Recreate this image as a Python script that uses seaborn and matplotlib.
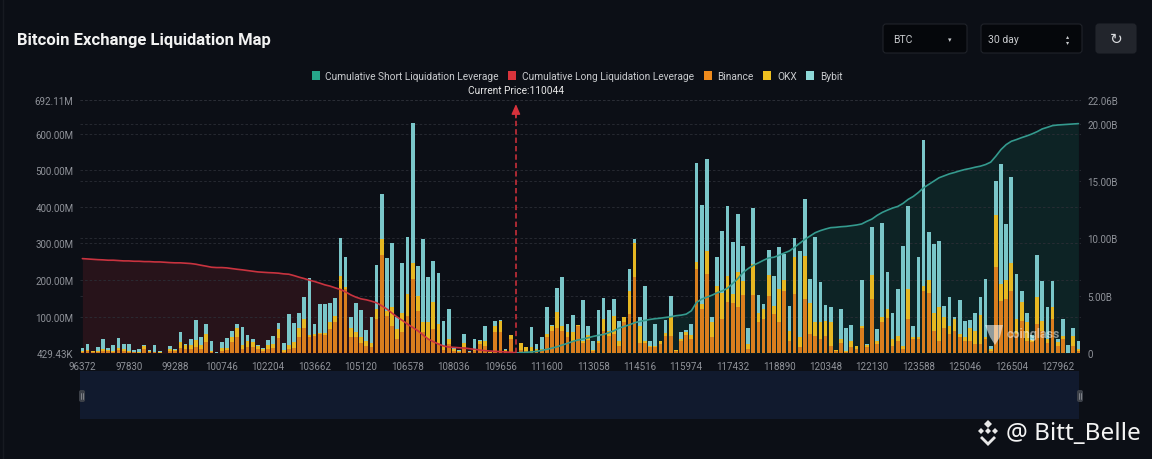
import numpy as np
import pandas as pd
import matplotlib
matplotlib.use("Agg")
import matplotlib.pyplot as plt
from matplotlib.patches import Rectangle, FancyBboxPatch, Polygon
import seaborn as sns

# ---------- data (millions of USD per price bucket) ----------
binance = [3,5,4,3,6,5,4,8,7,4,2,1,12,3,2,1,.2,6,5,15,12,12,18,12,30,3,.5,7,9,30,45,12,18,16,12,7,12,15,42,4,
10,15,45,70,45,47,52,49,66,84,175,175,43,43,29,20,16,93,267,102,75,38,57,102,203,116,57,38,66,29,9,25,6,3,16,2,6,25,20,1,
57,57,6,40,.5,8,6,6,5,6,43,61,70,61,43,34,73,29,37,6,29,61,47,52,20,84,107,207,29,29,16,16,25,47,47,7,34,49,38,230,
120,216,43,166,93,139,137,125,159,11,159,84,93,157,107,84,171,34,162,16,148,52,47,38,47,20,6,29,4,16,12,70,16,148,25,84,95,20,34,11,
93,40,40,171,164,61,34,70,52,61,43,34,34,25,25,38,5,235,143,148,171,52,89,34,30,79,61,29,93,20,38,.5,20,6]
okx = [3,4,3,3,6,4,3,5,3,3,2,2,8,3,2,2,.3,4,4,15,11,10,17,10,22,3,.5,6,6,15,25,10,15,14,8,5,10,10,23,4,
12,15,25,23,5,5,3,6,18,18,35,5,27,14,14,14,13,27,45,14,50,28,54,60,44,41,27,46,73,50,11,13,5,3,11,2,5,9,14,1,
16,32,3,10,.5,20,12,10,5,6,9,12,43,12,15,23,4,5,12,3,5,32,14,50,14,14,64,94,46,5,4,4,7,8,51,1,4,8,12,18,
14,63,41,18,71,73,25,98,39,14,85,27,28,57,23,91,30,27,100,27,117,85,37,46,42,64,2,9,2,18,8,3,6,66,9,14,25,18,13,9,
82,3,3,13,37,49,91,28,23,32,9,9,34,36,79,5,5,143,46,53,76,41,50,50,5,74,28,9,32,10,9,.5,27,5]
bybit = [7,16,0,11,28,6,14,29,14,18,4,7,2,3,18,3,.5,10,2,28,3,18,56,21,27,28,2,18,26,16,10,50,18,8,3,3,15,22,18,21,
85,52,40,61,155,27,80,79,52,49,105,84,30,80,74,30,69,121,124,144,175,32,135,155,383,82,227,125,112,139,67,82,5,3,25,2,29,3,40,1,
16,1,2,0,1,1,0,55,15,31,73,4,64,136,23,47,0,112,26,25,84,59,57,46,55,0,59,11,23,150,14,61,0,36,57,0,19,7,31,273,
271,253,16,78,171,190,143,157,96,44,153,48,13,69,80,116,70,67,53,237,156,66,233,111,43,41,0,84,64,44,0,127,3,132,32,258,103,73,128,272,
226,32,219,398,130,189,181,30,79,5,93,46,23,50,50,160,10,94,327,152,234,123,32,27,15,116,107,89,73,10,46,22,22,21]

# cumulative leverage, billions of USD (long ends at the current price, short starts there)
cum_long = [8.23,8.20,8.17,8.14,8.12,8.09,8.09,8.06,8.03,8.03,8.00,8.00,7.97,7.97,7.94,7.94,7.91,7.88,7.86,7.86,
7.83,7.80,7.74,7.65,7.57,7.48,7.45,7.45,7.42,7.36,7.30,7.25,7.19,7.13,7.07,7.04,7.01,6.99,6.96,6.90,
6.87,6.75,6.61,6.49,6.35,6.23,6.09,5.94,5.83,5.68,5.54,5.33,5.07,4.87,4.72,4.64,4.52,4.38,4.12,3.83,
3.48,3.13,2.84,2.52,2.23,1.94,1.57,1.22,.99,.78,.61,.52,.49,.46,.43,.38,.32,.26,.20,.17,.14,.12,.09,.06,.03]
cum_short = [0,.03,.06,.09,.14,.23,.32,.43,.55,.70,.84,1.01,1.13,1.22,1.33,1.45,1.54,1.62,1.77,1.94,
2.17,2.32,2.46,2.64,2.75,2.84,2.93,2.99,3.04,3.10,3.16,3.25,3.30,3.39,3.68,4.41,4.70,4.87,5.04,5.25,
5.42,5.65,6.06,6.49,7.01,7.36,7.65,7.86,8.09,8.29,8.35,8.52,8.72,8.90,9.22,9.57,9.91,10.20,10.49,10.67,
10.81,10.93,10.96,11.01,11.04,11.10,11.16,11.25,11.48,11.68,12.00,12.26,12.46,12.64,12.78,13.04,13.39,13.65,14.00,14.41,
14.70,14.99,15.28,15.45,15.62,15.74,15.88,16.00,16.09,16.20,16.29,16.43,16.64,17.16,17.74,18.17,18.46,18.61,18.78,18.93,
19.10,19.30,19.54,19.68,19.83,19.88,19.91,19.94,19.97,20.00]

price_labels = ["96372","97830","99288","100746","102204","103662","105120","106578","108036","109656","111600",
                "113058","114516","115974","117432","118890","120348","122130","123588","125046","126504","127962"]
left_ticks = [0.42943,100,200,300,400,500,600,692.11]
left_labels = ["429.43K","100.00M","200.00M","300.00M","400.00M","500.00M","600.00M","692.11M"]
right_ticks = [0,5,10,15,20,22.06]
right_labels = ["0","5.00B","10.00B","15.00B","20.00B","22.06B"]
legend_names = ["Cumulative Short Liquidation Leverage","Cumulative Long Liquidation Leverage","Binance","OKX","Bybit"]
current_price = "Current Price:110044"
current_index = 84

# ---------- style ----------
BG = "#0c0f16"
TICK = "#8f9299"
C_BIN, C_OKX, C_BYB = "#d97e1e", "#e6b722", "#7ac6c9"
C_SHORT, C_LONG = "#349a8e", "#c9333f"
sns.set_theme(style="dark")
plt.rcParams["font.family"] = ["Roboto", "DejaVu Sans"]

W, H = 1152, 460
fig = plt.figure(figsize=(W/100, H/100), dpi=100, facecolor=BG)
x0, x1, y_top, y_bot = 79.8, 1081, 101, 354
rect = [x0/W, 1-y_bot/H, (x1-x0)/W, (y_bot-y_top)/H]

ax_r = fig.add_axes(rect, facecolor=BG, zorder=1)
ax = fig.add_axes(rect, facecolor="none", zorder=2)
ax_l = fig.add_axes(rect, facecolor="none", zorder=3)

df = pd.DataFrame({"bucket": np.arange(len(binance)), "Binance": binance, "OKX": okx, "Bybit": bybit})
df["okx_top"] = df["Binance"] + df["OKX"]
df["total"] = df["okx_top"] + df["Bybit"]

for col, colr in [("total", C_BYB), ("okx_top", C_OKX), ("Binance", C_BIN)]:
    sns.barplot(data=df, x="bucket", y=col, color=colr, saturation=1, width=0.72, errorbar=None, ax=ax, linewidth=0)

xlim = (-0.5, len(binance)-0.5)
long_x = np.arange(len(cum_long))
short_x = current_index + np.arange(len(cum_short))

ax_r.fill_between(long_x, cum_long, 0, color="#27131a", lw=0)
ax_r.fill_between(short_x, cum_short, 0, color="#0d2325", lw=0)
sns.lineplot(x=long_x, y=cum_long, color=C_LONG, lw=1.2, ax=ax_l)
sns.lineplot(x=short_x, y=cum_short, color=C_SHORT, lw=1.2, ax=ax_l)

ax_l.plot([current_index]*2, [0, 21.4], color="#d6323c", lw=1.1, ls=(0, (3.5, 2)))
ax_l.annotate("", xy=(current_index, 21.7), xytext=(current_index, 20.5),
              arrowprops=dict(arrowstyle="-|>,head_width=0.22,head_length=0.5", color="#d6323c", lw=1, shrinkA=0, shrinkB=0))

for a in (ax, ax_r, ax_l):
    a.set_xlim(*xlim)
    a.set_xlabel(""); a.set_ylabel("")
    for s in a.spines.values():
        s.set_visible(False)
    a.grid(False)
ax.set_ylim(left_ticks[0], left_ticks[-1])
ax_r.set_ylim(0, right_ticks[-1])
ax_l.set_ylim(0, right_ticks[-1])
ax_l.axis("off")

ax.set_yticks(left_ticks, left_labels)
ax.set_xticks(np.arange(len(price_labels))*9, price_labels)
ax.tick_params(axis="y", length=0, pad=4.5, labelsize=7, labelcolor=TICK)
ax.tick_params(axis="x", length=0, pad=5.5, labelsize=7, labelcolor=TICK)
ax.yaxis.grid(True, color="#2b2e36", lw=0.6, ls=(0, (3, 2.5)))
ax.set_axisbelow(True)

ax_r.set_xticks([])
ax_r.yaxis.tick_right()
ax_r.set_yticks(right_ticks, right_labels)
ax_r.tick_params(axis="y", length=0, pad=4.5, labelsize=7, labelcolor=TICK)
ax_r.yaxis.grid(True, color="#2b2e36", lw=0.6, ls=(0, (3, 2.5)))

# ---------- page furniture, in pixel coordinates ----------
ui = fig.add_axes([0, 0, 1, 1], facecolor="none", zorder=5)
ui.set_xlim(0, W); ui.set_ylim(H, 0); ui.axis("off")

ui.add_patch(Rectangle((80, 372), 999, 48, color="#111a2e", lw=0, zorder=0))
for hx in (82, 1080):
    ui.add_patch(FancyBboxPatch((hx-3, 391), 6, 12, boxstyle="round,pad=0,rounding_size=2", fc="#3c4048", ec="none"))
    ui.plot([hx-1, hx-1], [394, 400], color="#9a9da3", lw=0.5)
    ui.plot([hx+1, hx+1], [394, 400], color="#9a9da3", lw=0.5)
ui.plot([3, 3], [0, 460], color="#171a21", lw=1)

ui.text(17, 40, "Bitcoin Exchange Liquidation Map", color="#f2f2f2", fontsize=12, fontweight="bold", va="center")

for bx, bw, fc, ec in [(883, 84, "#05070b", "#20232a"), (981, 101, "#05070b", "#20232a"), (1096, 40, "#22252c", "#22252c")]:
    ui.add_patch(FancyBboxPatch((bx, 25), bw, 29, boxstyle="round,pad=0,rounding_size=3", fc=fc, ec=ec, lw=0.8))
ui.text(893, 40, "BTC", color="#c8cacd", fontsize=7.5, va="center")
ui.text(950, 40, "▾", color="#c8cacd", fontsize=5, va="center", ha="center", family=["DejaVu Sans"])
ui.text(988, 40, "30 day", color="#c8cacd", fontsize=7.5, va="center")
ui.text(1068, 37, "▴", color="#c8cacd", fontsize=4.5, va="center", ha="center", family=["DejaVu Sans"])
ui.text(1068, 43, "▾", color="#c8cacd", fontsize=4.5, va="center", ha="center", family=["DejaVu Sans"])
ui.text(1116, 39.5, "↻", color="#d8dadd", fontsize=11, va="center", ha="center", family=["DejaVu Sans"])

handles = [Rectangle((0, 0), 1, 1, fc=c, ec="none") for c in ("#26a68a", "#d8343c", "#ee8a1c", "#eec020", "#8ed8d8")]
fig.legend(handles, legend_names, loc="center", bbox_to_anchor=(577/W, 1-77/H), ncol=5, frameon=False,
           fontsize=7.3, labelcolor="#c9cbce", handlelength=0.8, handleheight=0.95, handletextpad=0.55,
           columnspacing=0.95, borderpad=0, borderaxespad=0)
ui.text(516, 91, current_price, color="#e8e8e8", fontsize=7.3, ha="center", va="center")

# coinglass watermark
ui.add_patch(Polygon([(985, 326), (1003, 326), (1000, 338), (995, 346), (990, 338)], fc="#ffffff", alpha=0.55, ec="none"))
ui.text(1007, 335, "coinglass", color="#ffffff", alpha=0.5, fontsize=9, fontweight="bold", va="center")

# author mark
for p in ([(988, 421), (992, 425), (988, 429), (984, 425)], [(981, 429), (984, 432), (981, 435), (978, 432)],
          [(995, 429), (998, 432), (995, 435), (992, 432)],
          [(982, 437), (988, 443), (994, 437), (996, 439), (988, 447), (980, 439)],
          [(988, 429), (991, 432), (988, 435), (985, 432)]):
    ui.add_patch(Polygon(p, fc="#e8e8e8", ec="none"))
ui.text(1006, 434, "@ Bitt_Belle", color="#f4f4f4", fontsize=17.5, va="center", family=["Noto Sans", "DejaVu Sans"])

fig.savefig("out.png", dpi=100, facecolor=BG)
